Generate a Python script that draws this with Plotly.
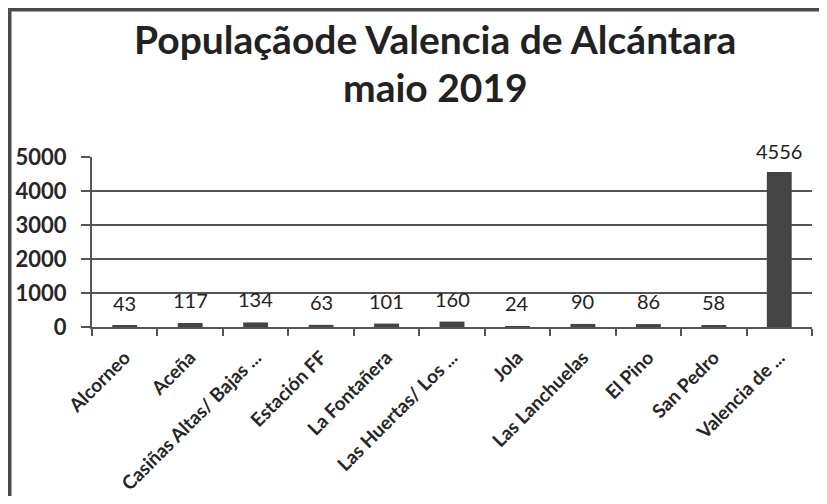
import plotly.graph_objects as go

# dados
localidades = ['Alcorneo', 'Aceña', 'Casiñas Altas/ Bajas ...', 'Estación FF', 'La Fontañera',
               'Las Huertas/ Los ...', 'Jola', 'Las Lanchuelas', 'El Pino', 'San Pedro', 'Valencia de ...']
populacao = [43, 117, 134, 63, 101, 160, 24, 90, 86, 58, 4556]
titulo = ['Populaçãode Valencia de Alcántara', 'maio 2019']

# a página tem 8px de margem no body: a figura começa em (8, 8)
OFF = 8
W, H = 827 - 2 * OFF, 504 - 2 * OFF
L, R, T, B = 92 - OFF, 15 - OFF, 157 - OFF, 177 - OFF
pw, ph = W - L - R, H - T - B


def px_y(py):
    # y em pixels da imagem (a partir do topo) -> y paper
    return (H - B - (py - OFF)) / ph


def px_x(px):
    return (px - OFF - L) / pw


fig = go.Figure()
fig.add_trace(go.Bar(
    x=localidades, y=populacao,
    marker=dict(color='#444444', line=dict(width=0)),
    hoverinfo='x+y',
))

# rótulos de dados
for loc, val in zip(localidades, populacao):
    fig.add_annotation(x=loc, y=val, text=str(val), showarrow=False,
                       yshift=23 if val < 1000 else 21,
                       font=dict(family='Lato', size=20, color='#222222'))

# título em duas linhas
for linha, py in zip(titulo, [55, 103]):
    fig.add_annotation(xref='paper', yref='paper', x=px_x(435), y=px_y(py),
                       xanchor='center', yanchor='bottom', yshift=-9, showarrow=False,
                       text=linha,
                       font=dict(family='Lato', size=39, color='#222222', weight='bold'))

# moldura (esquerda e topo)
fig.add_shape(type='path', xref='paper', yref='paper',
              path=f'M {px_x(9.5)} {px_y(520)} L {px_x(9.5)} {px_y(9.5)} L {px_x(840)} {px_y(9.5)}',
              line=dict(color='#4a4a4a', width=4))

fig.update_layout(
    width=W, height=H,
    margin=dict(l=L, r=R, t=T, b=B, autoexpand=False),
    paper_bgcolor='white', plot_bgcolor='white',
    bargap=0.62,
    showlegend=False,
    font=dict(family='Lato', color='#222222'),
)
fig.update_xaxes(
    automargin=False,
    showline=True, linecolor='#555555', linewidth=2,
    ticks='outside', tickson='boundaries', ticklen=7, tickcolor='#555555', tickwidth=2,
    tickangle=-45, ticklabelstandoff=10,
    tickfont=dict(family='Lato', size=19, color='#262626', weight='bold'),
    showgrid=False,
)
fig.update_yaxes(
    automargin=False,
    range=[0, 5000], dtick=1000, tickformat='d',
    showline=True, linecolor='#555555', linewidth=2,
    ticks='outside', ticklen=9, tickcolor='#555555', tickwidth=2,
    showgrid=True, gridcolor='#555555', gridwidth=2,
    zeroline=False, ticklabelstandoff=10,
    tickfont=dict(family='Lato', size=22, color='#262626', weight='bold'),
)

fig.write_html('out.html')
